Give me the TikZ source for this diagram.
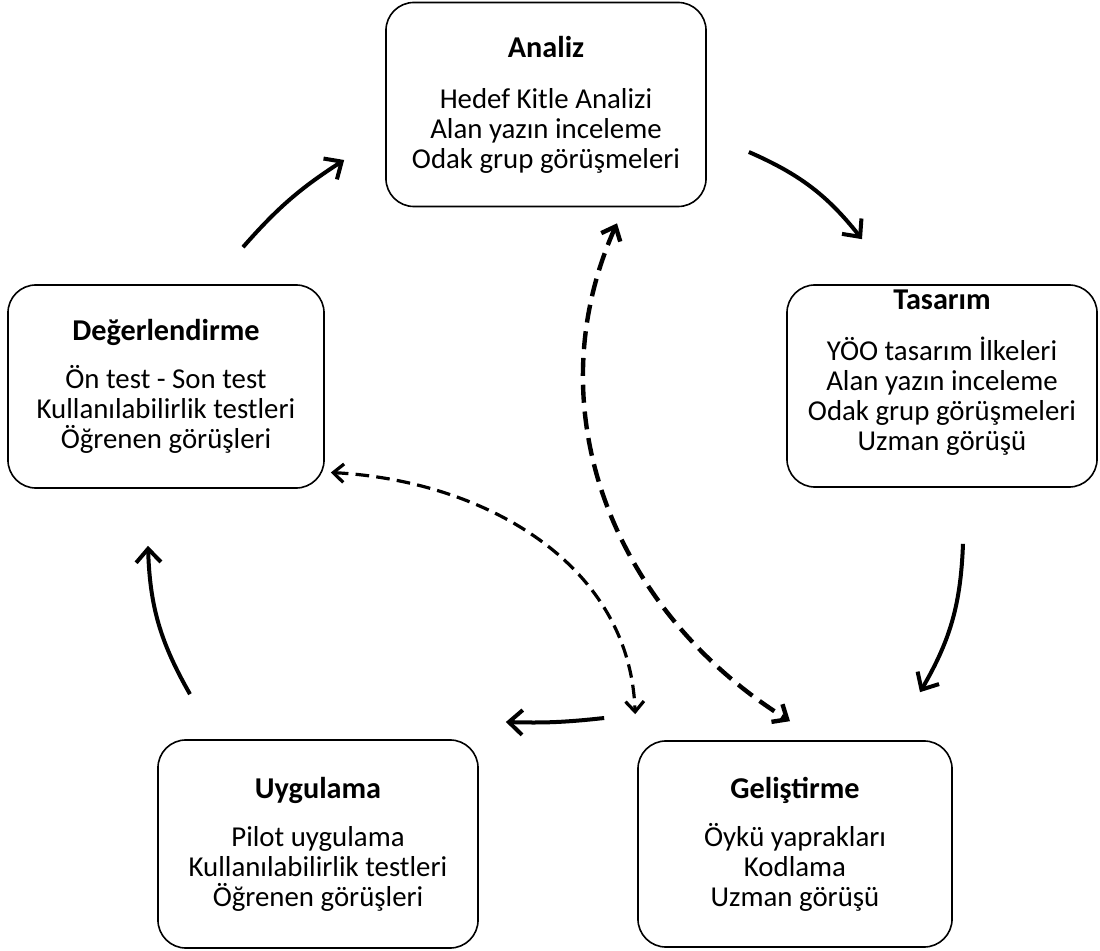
\documentclass[tikz,border=0pt]{standalone}
\usepackage{fontspec}
\setmainfont{Carlito}
\usetikzlibrary{arrows.meta}
\begin{document}
\begin{tikzpicture}[x=0.025cm,y=-0.025cm,
    phase/.style={draw, line width=0.04cm, rounded corners=0.7cm, align=center,
      minimum width=8cm, minimum height=5.1cm, inner sep=0pt,
      font=\fontsize{20.5}{21.3}\selectfont},
    flow/.style={line width=0.1cm, -{Straight Barb[length=0.34cm,width=0.62cm]}},
    link/.style={line width=0.11cm, dash pattern=on 0.45cm off 0.22cm,
      {Straight Barb[length=0.3cm,width=0.52cm]}-{Straight Barb[length=0.3cm,width=0.52cm]}},
    linksmall/.style={line width=0.08cm, dash pattern=on 0.34cm off 0.18cm,
      {Straight Barb[length=0.26cm,width=0.46cm]}-{Straight Barb[length=0.26cm,width=0.46cm]}}]
    \newcommand{\phtitle}[1]{{\fontsize{21.5}{21.3}\selectfont\bfseries #1}}
    \useasboundingbox (0,0) rectangle (1100,951);

    % Drawing box Analiz
    \node [phase] (ana) at (546,104.5) {\phtitle{Analiz}\\[15pt]Hedef Kitle Analizi\\Alan yazın inceleme\\Odak grup görüşmeleri};%

    % Drawing box Tasarım
    \node [phase, minimum width=7.75cm, minimum height=5.05cm, text depth=0.78cm] (tas) at (942,386) {\phtitle{Tasarım}\\[15pt]YÖO tasarım İlkeleri\\Alan yazın inceleme\\Odak grup görüşmeleri\\Uzman görüşü};%

    % Drawing box Geliştirme
    \node [phase, minimum width=7.85cm, minimum height=5.15cm] (gel) at (795,844) {\phtitle{Geliştirme}\\[13pt]Öykü yaprakları\\Kodlama\\Uzman görüşü};%

    % Drawing box Uygulama
    \node [phase, minimum height=5.2cm] (uyg) at (318,844) {\phtitle{Uygulama}\\[13pt]Pilot uygulama\\Kullanılabilirlik testleri\\Öğrenen görüşleri};%

    % Drawing box Değerlendirme
    \node [phase, minimum width=7.9cm, minimum height=5.075cm] (deg) at (166,386.5) {\phtitle{Değerlendirme}\\[13pt]Ön test - Son test\\Kullanılabilirlik testleri\\Öğrenen görüşleri};%

    % Drawing cycle arrows
    \draw [flow] ([shift={(77,-37)}]deg.north) to[bend left=8] ([shift={(-41,55.5)}]ana.west);%
    \draw [flow] ([shift={(42,47.5)}]ana.east) to[bend left=14] ([shift={(-80,-45)}]tas.north);%
    \draw [flow] ([shift={(21,56)}]tas.south) to[bend left=14] ([shift={(125,-48)}]gel.north);%
    \draw [flow] ([shift={(-33,-126)}]gel.west) to[bend left=4] ([shift={(27,-122)}]uyg.east);%
    \draw [flow] ([shift={(-128,-45)}]uyg.north) to[bend left=14] ([shift={(-18,57)}]deg.south);%

    % Drawing dashed links
    \draw [link] ([shift={(71,16)}]ana.south) to[out=-114,in=148] ([shift={(-5,-19)}]gel.north);%
    \draw [linksmall] ([shift={(6,86)}]deg.east) to[out=-3,in=92] ([shift={(-2,-26)}]gel.north west);%
\end{tikzpicture}
\end{document}
